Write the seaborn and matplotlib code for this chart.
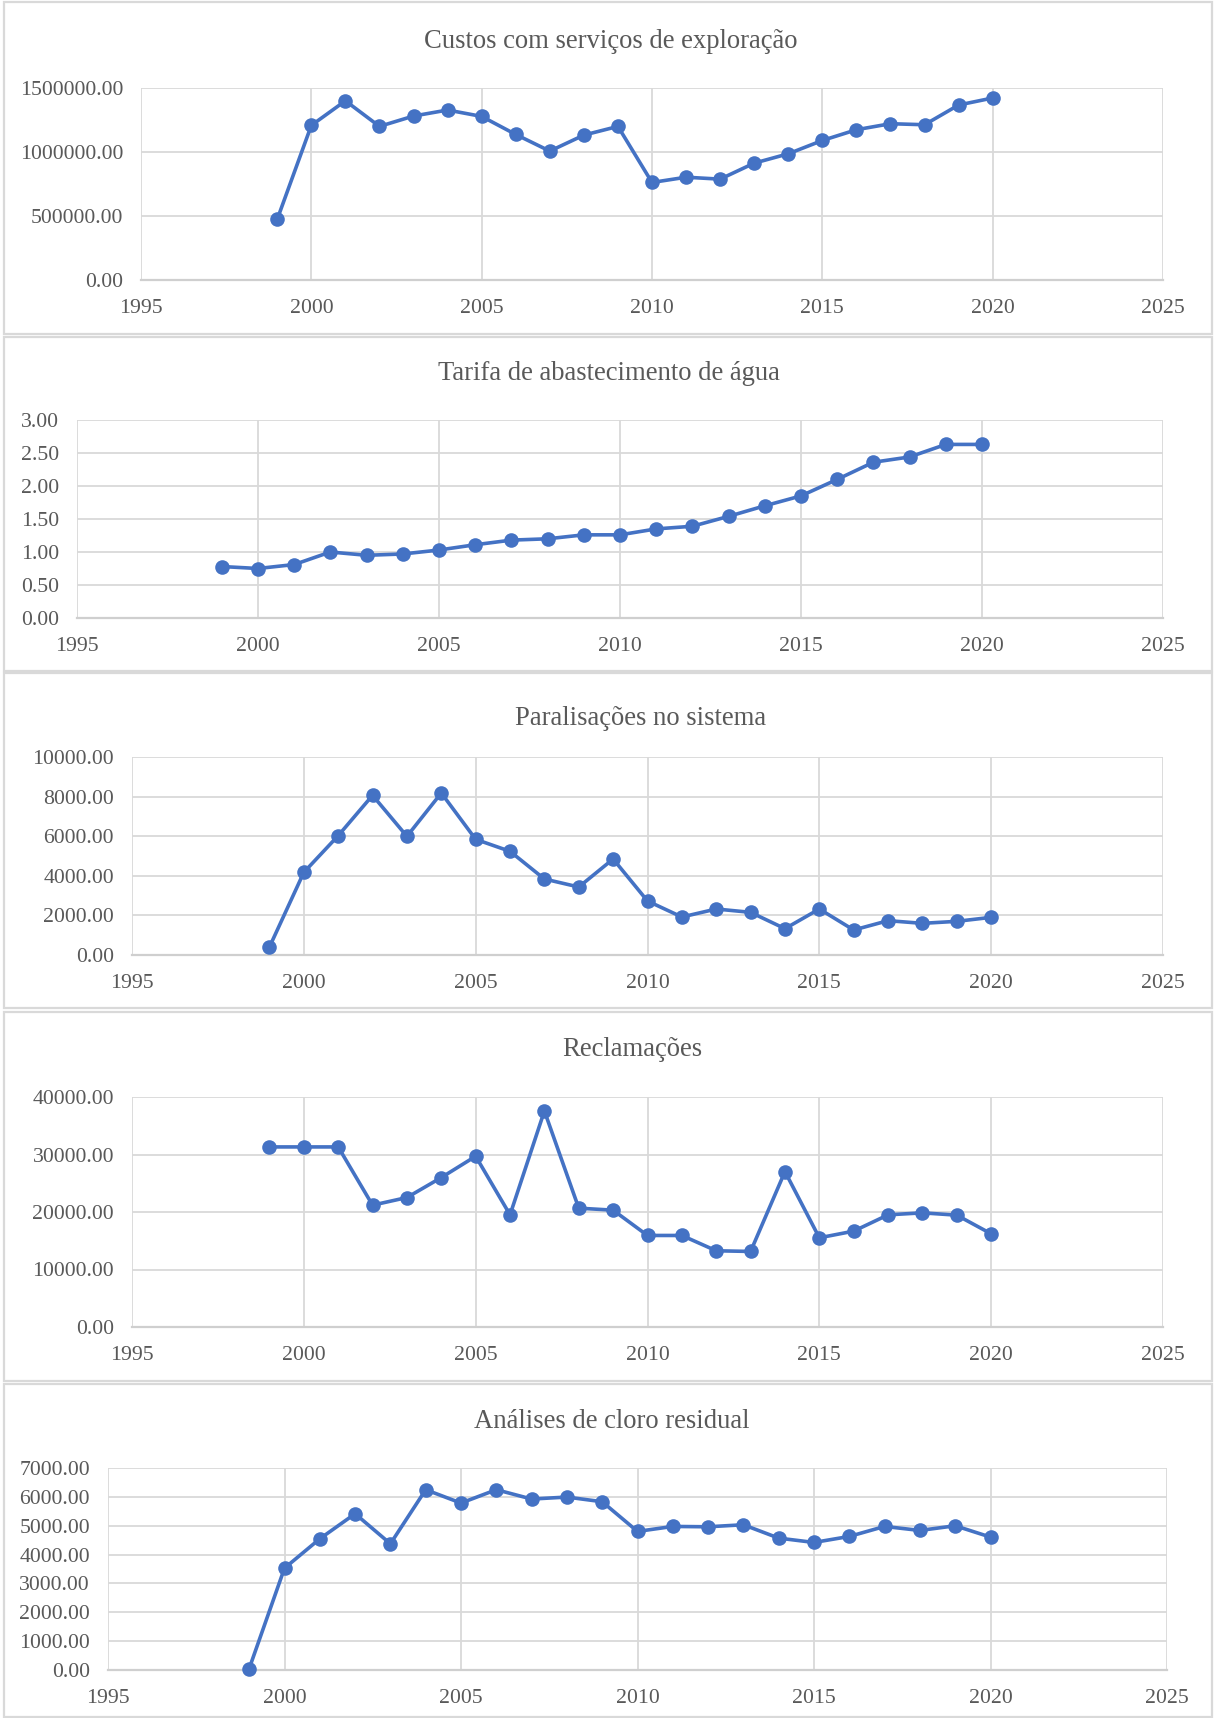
import matplotlib
matplotlib.use("Agg")
import matplotlib.pyplot as plt
from matplotlib.patches import Rectangle
from matplotlib.ticker import FormatStrFormatter
import seaborn as sns
import pandas as pd

# ---- data -------------------------------------------------------------
years = list(range(1999, 2021))

custos_exploracao = [475000, 1208000, 1400000, 1200000, 1281000, 1328000, 1278000,
                     1137000, 1007000, 1132000, 1200000, 762000, 803000, 788000,
                     913000, 986000, 1090000, 1174000, 1221000, 1213000, 1367000,
                     1422000]

tarifa_agua = [0.78, 0.75, 0.81, 1.00, 0.95, 0.97, 1.03, 1.11, 1.18, 1.20, 1.26,
               1.26, 1.35, 1.39, 1.54, 1.70, 1.85, 2.10, 2.36, 2.44, 2.63, 2.63]

paralisacoes = [404, 4175, 6027, 8064, 5993, 8182, 5842, 5236, 3838, 3434, 4848,
                2727, 1919, 2323, 2155, 1330, 2323, 1263, 1734, 1599, 1700, 1902]

reclamacoes = [31317, 31317, 31317, 21187, 22518, 25991, 29696, 19508, 37569,
               20666, 20318, 15919, 15919, 13256, 13140, 27033, 15514, 16671,
               19508, 19855, 19450, 16208]

cloro_residual = [50, 3529, 4547, 5415, 4374, 6248, 5785, 6248, 5924, 5993, 5831,
                  4802, 4975, 4963, 5033, 4570, 4420, 4628, 4975, 4836, 4998, 4605]

titles = ["Custos com serviços de exploração",
          "Tarifa de abastecimento de água",
          "Paralisações no sistema",
          "Reclamações",
          "Análises de cloro residual"]

series = [custos_exploracao, tarifa_agua, paralisacoes, reclamacoes, cloro_residual]

y_ticks = [[0, 500000, 1000000, 1500000],
           [0, 0.5, 1.0, 1.5, 2.0, 2.5, 3.0],
           [0, 2000, 4000, 6000, 8000, 10000],
           [0, 10000, 20000, 30000, 40000],
           [0, 1000, 2000, 3000, 4000, 5000, 6000, 7000]]

x_ticks = [1995, 2000, 2005, 2010, 2015, 2020, 2025]

# ---- layout (pixels) --------------------------------------------------
W, H = 1214, 1718
DPI = 100

# plot areas: left, top, right, bottom
plot_boxes = [(141, 88, 1163, 280),
              (77, 420, 1163, 618),
              (132, 757, 1163, 955),
              (132, 1097, 1163, 1327),
              (108, 1468, 1167, 1670)]

# chart frames: top, bottom
frames = [(2, 334), (337, 671), (673, 1008), (1012, 1381), (1384, 1717)]

title_pos = [(611, 41), (609, 373), (641, 718), (632, 1050), (612, 1422)]

LINE_COLOR = "#4472C4"
GRID_COLOR = "#D9D9D9"
TEXT_COLOR = "#595959"

sns.set_theme(style="white")
plt.rcParams["font.family"] = ["Liberation Serif", "DejaVu Serif"]

fig = plt.figure(figsize=(W / DPI, H / DPI), dpi=DPI, facecolor="white")

for (top, bottom) in frames:
    fig.add_artist(Rectangle((4 / W, 1 - bottom / H), (1212 - 4) / W, (bottom - top) / H,
                             transform=fig.transFigure, fill=False,
                             edgecolor=GRID_COLOR, linewidth=1.6))

for i, (box, vals) in enumerate(zip(plot_boxes, series)):
    l, t, r, b = box
    ax = fig.add_axes([l / W, 1 - b / H, (r - l) / W, (b - t) / H])
    df = pd.DataFrame({"ano": years, "valor": vals})
    sns.lineplot(data=df, x="ano", y="valor", ax=ax, color=LINE_COLOR,
                 linewidth=2.6, marker="o", markersize=10.5,
                 markeredgewidth=0, markerfacecolor=LINE_COLOR,
                 clip_on=False, zorder=3)
    ax.set_xlim(1995, 2025)
    ax.set_ylim(y_ticks[i][0], y_ticks[i][-1])
    ax.set_xticks(x_ticks)
    ax.set_yticks(y_ticks[i])
    ax.yaxis.set_major_formatter(FormatStrFormatter("%.2f"))
    ax.set_xlabel("")
    ax.set_ylabel("")
    ax.grid(True, color=GRID_COLOR, linewidth=1.3, zorder=0)
    ax.set_axisbelow(True)
    for s in ["top", "right", "left"]:
        ax.spines[s].set_visible(False)
    ax.spines["bottom"].set_color("#CFCFCF")
    ax.spines["bottom"].set_linewidth(1.6)
    ax.tick_params(axis="both", length=0, labelsize=15.7, labelcolor=TEXT_COLOR)
    ax.tick_params(axis="y", pad=13)
    ax.tick_params(axis="x", pad=14)
    ax.set_facecolor("white")

    tx, ty = title_pos[i]
    fig.text(tx / W, 1 - ty / H, titles[i], ha="center", va="center",
             fontsize=19.2, color=TEXT_COLOR)

fig.savefig("out.png", dpi=DPI, facecolor="white")
